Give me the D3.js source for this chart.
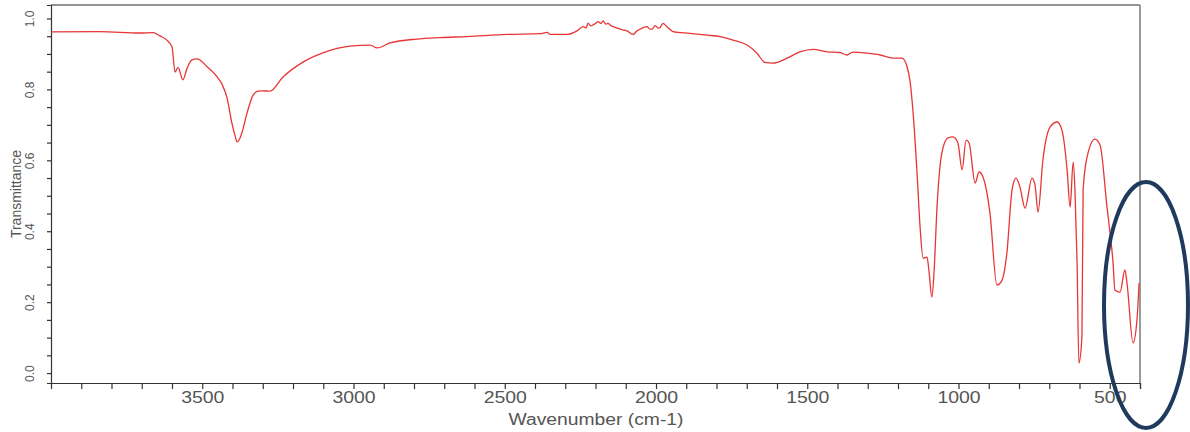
<!DOCTYPE html>
<html>
<head>
<meta charset="utf-8">
<script src="https://cdn.jsdelivr.net/npm/d3@7"></script>
<style>
  html, body { margin: 0; padding: 0; background: #ffffff; }
  svg { display: block; }
  text { font-family: "Liberation Sans", Arial, sans-serif; }
</style>
</head>
<body>
<svg id="chart" width="1190" height="432"></svg>
<script>
// Wavenumber (cm-1)
const wavenumber = [4000,3838,3706,3663,3640,3617,3600,3590,3580,3564,3550,3534,3517,3484,3451,3435,3418,3402,3392,3385,3375,3369,3352,3332,3316,3302,3276,3233,3167,3101,3012,2945,2922,2879,2790,2714,2625,2493,2383,2360,2350,2294,2261,2241,2231,2225,2215,2208,2198,2192,2182,2175,2165,2159,2149,2142,2119,2096,2076,2063,2053,2040,2030,2020,2013,2003,1993,1987,1977,1964,1944,1888,1831,1788,1745,1699,1666,1640,1613,1567,1524,1481,1435,1392,1369,1349,1302,1259,1217,1187,1170,1160,1150,1137,1127,1117,1104,1098,1088,1081,1071,1055,1035,1018,1002,988,975,965,945,932,919,896,873,856,840,823,810,797,780,757,747,737,721,697,674,658,641,631,621,615,608,602,592,588,575,549,532,509,499,489,483,466,450,443,423,410,403];
// Transmittance
const transmittance = [0.962,0.963,0.959,0.960,0.951,0.939,0.920,0.849,0.862,0.827,0.860,0.883,0.886,0.864,0.836,0.815,0.776,0.705,0.671,0.652,0.663,0.677,0.733,0.784,0.795,0.796,0.795,0.835,0.877,0.903,0.922,0.925,0.917,0.931,0.942,0.946,0.949,0.955,0.957,0.961,0.955,0.955,0.965,0.977,0.973,0.987,0.979,0.982,0.987,0.991,0.986,0.993,0.984,0.986,0.980,0.977,0.970,0.965,0.955,0.965,0.970,0.975,0.977,0.970,0.970,0.980,0.973,0.974,0.986,0.977,0.963,0.958,0.953,0.949,0.939,0.925,0.902,0.876,0.874,0.888,0.906,0.913,0.906,0.904,0.897,0.905,0.902,0.897,0.888,0.888,0.864,0.822,0.733,0.564,0.412,0.324,0.327,0.291,0.214,0.282,0.468,0.621,0.663,0.666,0.649,0.573,0.657,0.649,0.536,0.567,0.553,0.451,0.248,0.262,0.339,0.516,0.550,0.525,0.465,0.550,0.530,0.454,0.601,0.694,0.708,0.685,0.573,0.468,0.595,0.516,0.310,0.028,0.102,0.516,0.609,0.660,0.643,0.468,0.395,0.310,0.234,0.228,0.291,0.254,0.085,0.150,0.254];

const xTickLabels = [3500, 3000, 2500, 2000, 1500, 1000, 500];
const yTickLabels = [0.0, 0.2, 0.4, 0.6, 0.8, 1.0];
const xTitle = "Wavenumber (cm-1)";
const yTitle = "Transmittance";

(function () {
const data = wavenumber.map((w, i) => ({ w: w, t: transmittance[i] }));

const svg = d3.select("#chart");
const pLeft = 51, pRight = 1140, pTop = 5, pBottom = 383;

const x = d3.scaleLinear().domain([4000, 400]).range([pLeft, pRight]);
const y = d3.scaleLinear().domain([-0.028, 1.038]).range([pBottom, pTop]);

// frame (top and right)
svg.append("line").attr("x1", pLeft).attr("x2", pRight).attr("y1", pTop).attr("y2", pTop)
  .attr("stroke", "#6f6f6f").attr("stroke-width", 1.5);
svg.append("line").attr("x1", pRight).attr("x2", pRight).attr("y1", pTop).attr("y2", pBottom)
  .attr("stroke", "#9a9a9a").attr("stroke-width", 2);

// x axis
const xMinor = d3.range(3900, 399, -100);
const xAxis = d3.axisBottom(x).tickValues(xMinor).tickSize(6)
  .tickFormat(d => xTickLabels.includes(d) ? String(d) : "");
const gx = svg.append("g").attr("transform", `translate(0,${pBottom})`).call(xAxis);
gx.select(".domain").attr("stroke", "#333").attr("stroke-width", 1.2);
gx.selectAll(".tick line").attr("stroke", "#333").attr("stroke-width", 1.2);
gx.selectAll(".tick text")
  .attr("fill", "#555").attr("font-size", 16).attr("y", 9).attr("dy", "0.71em")
  .each(function (d) {
    if (xTickLabels.includes(d)) {
      d3.select(this).attr("textLength", String(d).length * 10.8).attr("lengthAdjust", "spacingAndGlyphs");
    }
  });

// y axis
const yMinor = d3.range(0, 21).map(i => +(i * 0.05).toFixed(2));
const yAxis = d3.axisLeft(y).tickValues(yMinor).tickSize(4)
  .tickFormat(d => yTickLabels.some(v => Math.abs(v - d) < 1e-6) ? d3.format(".1f")(d) : "");
const gy = svg.append("g").attr("transform", `translate(${pLeft},0)`).call(yAxis);
gy.select(".domain").attr("stroke", "#333").attr("stroke-width", 1.2);
gy.selectAll(".tick line").attr("stroke", "#333").attr("stroke-width", 1.2);
gy.selectAll(".tick text")
  .attr("fill", "#555").attr("font-size", 12)
  .attr("x", 0).attr("dy", null)
  .attr("text-anchor", "middle")
  .attr("transform", "translate(-20,0) rotate(-90)")
  .attr("dominant-baseline", "middle");

// spectrum
const line = d3.line().x(d => x(d.w)).y(d => y(d.t)).curve(d3.curveMonotoneX);
svg.append("path").datum(data)
  .attr("d", line)
  .attr("fill", "none")
  .attr("stroke", "#e83535")
  .attr("stroke-width", 1.3)
  .attr("stroke-linejoin", "round");

// titles
svg.append("text").attr("x", 596).attr("y", 425)
  .attr("text-anchor", "middle").attr("font-size", 16).attr("fill", "#555")
  .attr("textLength", 175).attr("lengthAdjust", "spacingAndGlyphs")
  .text(xTitle);
svg.append("text")
  .attr("transform", `translate(17,${(pTop + pBottom) / 2}) rotate(-90)`)
  .attr("text-anchor", "middle").attr("font-size", 14).attr("fill", "#555")
  .attr("dominant-baseline", "middle")
  .text(yTitle);

// annotation ellipse
svg.append("ellipse")
  .attr("cx", 1146).attr("cy", 305).attr("rx", 42).attr("ry", 123)
  .attr("fill", "none").attr("stroke", "#1f3a5c").attr("stroke-width", 4);
})();
</script>
</body>
</html>
